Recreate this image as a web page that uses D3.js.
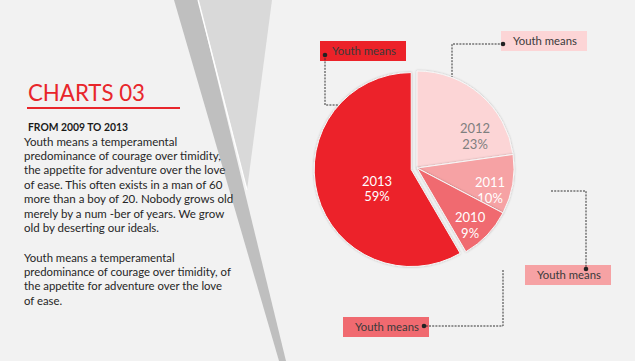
<!DOCTYPE html>
<html><head><meta charset="utf-8">
<script src="https://cdn.jsdelivr.net/npm/d3@7/dist/d3.min.js"></script>
<style>
html,body{margin:0;padding:0;background:#F2F2F2;}
svg{display:block;}
text{font-family:Lato,"Open Sans",sans-serif;}
</style></head>
<body>
<svg id="c" width="635" height="361"></svg>
<script>
// ---- data ----
const categories = ["2012", "2011", "2010", "2013"];
const values = [23, 10, 9, 59];
const sliceColors = ["#FCD5D6", "#F6A2A4", "#F06A70", "#EC2229"];
const labelColors = ["#7F7F7F", "#FFFFFF", "#FFFFFF", "#FFFFFF"];
const title = "CHARTS 03";
const subtitle = "FROM 2009 TO 2013";
const paragraph1 = [
  "Youth means a temperamental",
  "predominance of courage over timidity,",
  "the appetite for adventure over the love",
  "of ease. This often exists in a man of 60",
  "more than a boy of 20. Nobody grows old",
  "merely by a num -ber of years. We grow",
  "old by deserting our ideals."
];
const paragraph2 = [
  "Youth means a temperamental",
  "predominance of courage over timidity, of",
  "the appetite for adventure over the love",
  "of ease."
];
const calloutText = ["Youth means", "Youth means", "Youth means", "Youth means"];

// ---- drawing ----
const svg = d3.select("#c");
svg.append("rect").attr("width", 635).attr("height", 361).attr("fill", "#F2F2F2");

// fit a text element's font size so its rendered width equals target
function fit(sel, target, base) {
  const w = sel.node().getComputedTextLength();
  if (w > 0) sel.style("font-size", (base * target / w) + "px");
  return sel;
}

// decorative shapes
svg.append("path").attr("d", "M199,0 L272,0 L247,190 Z").attr("fill", "#D9D9D9");
svg.append("path").attr("d", "M174,0 L198,0 L286,361 L279,361 Z").attr("fill", "#BFBFBF");
svg.append("path").attr("d", "M198,0 L247,190").attr("stroke", "#FFFFFF").attr("stroke-width", 1.2).attr("fill", "none");

// left text
fit(svg.append("text").attr("x", 28).attr("y", 101).attr("fill", "#E8262B")
  .style("font-size", "25px").text(title), 117, 25);
svg.append("line").attr("x1", 27).attr("x2", 180).attr("y1", 108).attr("y2", 108)
  .attr("stroke", "#E8262B").attr("stroke-width", 2);
fit(svg.append("text").attr("x", 28).attr("y", 131).attr("fill", "#1a1a1a")
  .style("font-size", "11px").style("font-weight", "bold").text(subtitle), 100, 11);

function para(lines, y0, widest, target) {
  const ts = lines.map((l, i) => svg.append("text").attr("x", 24).attr("y", y0 + i * 14.4)
    .attr("fill", "#262626").style("font-size", "12px").text(l));
  const w = ts[widest].node().getComputedTextLength();
  const size = w > 0 ? 12 * target / w : 12;
  ts.forEach(t => t.style("font-size", size + "px"));
}
para(paragraph1, 145.5, 1, 197);
para(paragraph2, 261.5, 1, 207);

// pie
const cx = 417, cy = 168, R = 97, explode = 6;
const defs = svg.append("defs");
const f = defs.append("filter").attr("id", "sh").attr("x", "-20%").attr("y", "-20%").attr("width", "140%").attr("height", "140%");
f.append("feDropShadow").attr("dx", 0).attr("dy", 0).attr("stdDeviation", 1.2)
  .attr("flood-color", "#000").attr("flood-opacity", 0.25);

const pie = d3.pie().sort(null).value(d => d)(values);
const arc = d3.arc().innerRadius(0).outerRadius(R);
const g = svg.append("g").attr("transform", `translate(${cx},${cy})`);
const exploded = [false, false, false, true];

const slices = g.selectAll("g.s").data(pie).join("g").attr("class", "s")
  .attr("transform", (d, i) => {
    if (!exploded[i]) return null;
    const a = (d.startAngle + d.endAngle) / 2;
    return `translate(${Math.sin(a) * explode},${-Math.cos(a) * explode})`;
  });
slices.append("path").attr("d", arc).attr("fill", (d, i) => sliceColors[i])
  .attr("stroke", "#F7F7F7").attr("stroke-width", 1).attr("filter", "url(#sh)");

// labels
const labelArc = d3.arc().innerRadius(R * 0.62).outerRadius(R * 0.62);
const nudges = [[18.6, 17.9], [13.8, 16.3], [9.6, 20], [23.8, 7.8]];
slices.each(function (d, i) {
  const c = labelArc.centroid(d);
  const x = c[0] + nudges[i][0], y = c[1] + nudges[i][1];
  const t = d3.select(this).append("text").attr("text-anchor", "middle")
    .attr("fill", labelColors[i]).style("font-size", "13px");
  t.append("tspan").attr("x", x).attr("y", y - 7.5).text(categories[i]);
  t.append("tspan").attr("x", x).attr("y", y + 8).text(values[i] + "%");
});

// callouts
const callouts = [
  { box: [320, 41], fill: "#EC2229", dot: [325, 55], path: [[325, 55], [325, 105], [339, 105]] },
  { box: [501, 31], fill: "#FCD5D6", dot: [503, 44], path: [[503, 44], [452, 44], [452, 77]] },
  { box: [525, 265], fill: "#F6A2A4", dot: [586, 269], path: [[551, 191], [586, 191], [586, 269]] },
  { box: [343, 317], fill: "#F06A70", dot: [424, 326], path: [[503, 270], [503, 326], [424, 326]] }
];
const line = d3.line();
callouts.forEach((c, i) => {
  svg.append("rect").attr("x", c.box[0]).attr("y", c.box[1]).attr("width", 86).attr("height", 20).attr("fill", c.fill);
  fit(svg.append("text").attr("x", c.box[0] + 12).attr("y", c.box[1] + 14).attr("fill", "#3a3a3a")
    .style("font-size", "12px").text(calloutText[i]), 64, 12);
  svg.append("path").attr("d", line(c.path)).attr("fill", "none").attr("stroke", "#333")
    .attr("stroke-width", 1).attr("stroke-dasharray", "2,1.2");
  svg.append("circle").attr("cx", c.dot[0]).attr("cy", c.dot[1]).attr("r", 2.3).attr("fill", "#222");
});
</script>
</body></html>
